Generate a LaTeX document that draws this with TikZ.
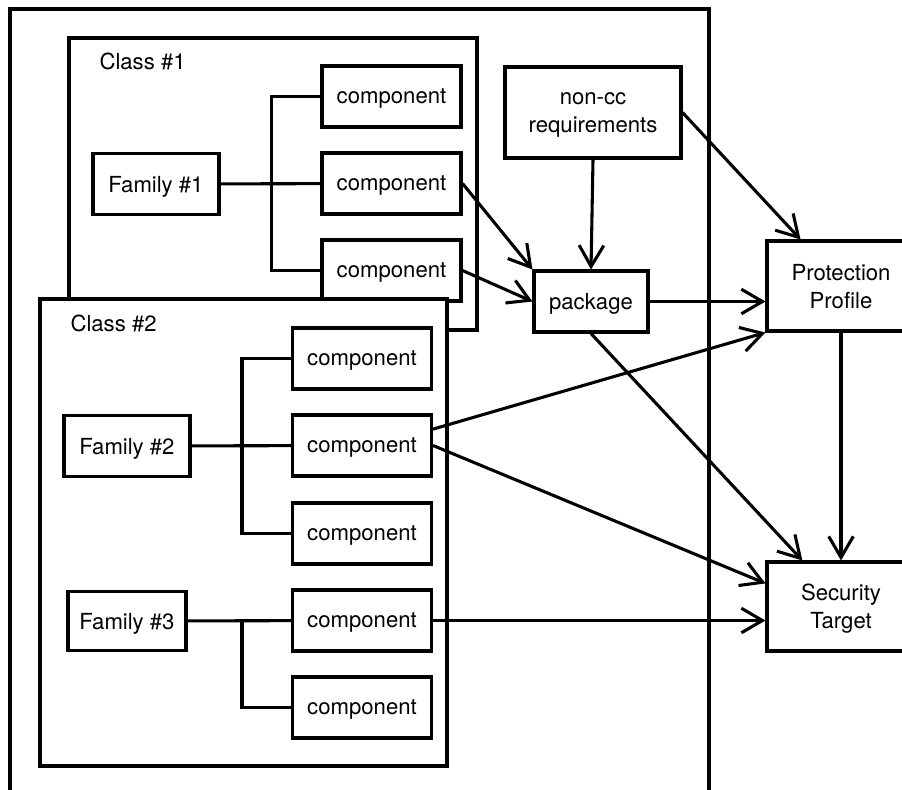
\documentclass[tikz,border=0pt]{standalone}
\usepackage{fontspec}
\setmainfont{TeX Gyre Heros}
\usetikzlibrary{positioning, arrows.meta, calc}

\begin{document}
\begin{tikzpicture}[
  x=0.02cm, y=-0.02cm,
  line width=1.75pt,
  every node/.style={font=\fontsize{12.6}{16}\selectfont, align=center, text depth=0pt},
  comp/.style={rectangle, draw, fill=white, inner sep=0pt,
               minimum width=2.78cm, minimum height=1.22cm},
  family/.style={rectangle, draw, fill=white, inner sep=0pt,
                 minimum width=2.52cm, minimum height=1.22cm},
  doc/.style={rectangle, draw, fill=white, inner sep=0pt,
              minimum width=2.96cm, minimum height=1.8cm},
  classbox/.style={draw, fill=white},
  classlabel/.style={anchor=west, inner sep=0pt},
  arrow/.style={-{Straight Barb[length=12pt, width=14pt]}}
]
\useasboundingbox (0,0) rectangle (902,789);
\clip (0,0) rectangle (902,789);

% outer frame
\draw (10,9) rectangle (709,820);

% class 1
\draw[classbox] (69,38) rectangle (477,330);
\node[classlabel] (class1) at (98,61) {Class \#1};
\node[family] (fam1) at (156,184) {Family \#1};
\node[comp] (c11) at (391.5,96.5) {component};
\node[comp] (c12) at (391.5,183.5) {component};
\node[comp] (c13) at (391.5,270.5) {component};
\draw (fam1) -- (c12);
\draw (c11.west) -- ++(-49,0) |- (c13.west);

% class 2
\draw[classbox] (40,299) rectangle (447,766);
\node[classlabel] (class2) at (69,323) {Class \#2};
\node[family] (fam2) at (127,446) {Family \#2};
\node[family, minimum width=2.36cm, minimum height=1.18cm] (fam3) at (127,621) {Family \#3};
\node[comp] (c21) at (362,358.5) {component};
\node[comp] (c22) at (362,445.5) {component};
\node[comp] (c23) at (362,533.5) {component};
\node[comp] (c24) at (362,620.5) {component};
\node[comp] (c25) at (362,707.5) {component};
\draw (fam2) -- (c22);
\draw (c21.west) -- ++(-49,0) |- (c23.west);
\draw (fam3) -- (c24);
\draw (c24.west) ++(-49,0) |- (c25.west);

% packages and targets
\node[rectangle, draw, fill=white, minimum width=3.52cm, minimum height=1.82cm] (noncc) at (593,112.5) {non-cc\\requirements};
\node[rectangle, draw, fill=white, minimum width=2.28cm, minimum height=1.22cm] (pkg) at (591,301.5) {package};
\node[doc] (pp) at (841,286) {Protection\\Profile};
\node[doc, minimum height=1.78cm] (st) at (841,606.5) {Security\\Target};

\draw[arrow] (c12.east) -- (pkg.north west);
\draw[arrow] (c13.east) -- (pkg.west);
\draw[arrow] (noncc.south) -- (pkg.north);
\draw[arrow] (noncc.east) -- (pp.131);
\draw[arrow] (pkg.east) -- (pkg.east -| pp.west);
\draw[arrow] (c22.13) -- (pp.south west);
\draw[arrow] (c22.east) -- (st.163);
\draw[arrow] (pkg.south) -- (st.130);
\draw[arrow] (pp.south) -- (st.north);
\draw[arrow] (c24.east) -- (c24.east -| st.west);
\end{tikzpicture}
\end{document}
